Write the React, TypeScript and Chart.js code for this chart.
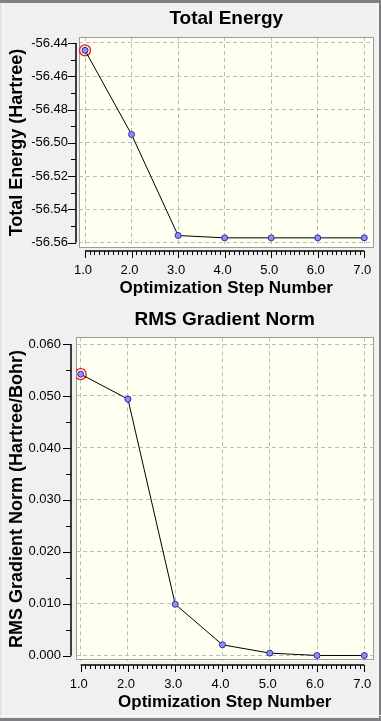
import React, { useEffect, useRef } from 'react';
import { Chart, registerables } from 'chart.js';

Chart.register(...registerables);

const FONT = '"Liberation Sans", Arial, Helvetica, sans-serif';

// ---- data ----
const steps = [1, 2, 3, 4, 5, 6, 7];
const xTickLabels = ['1.0', '2.0', '3.0', '4.0', '5.0', '6.0', '7.0'];

const totalEnergy = [-56.4444, -56.495, -56.5557, -56.5571, -56.5571, -56.5571, -56.5571];
const energyTicks = [-56.56, -56.54, -56.52, -56.5, -56.48, -56.46, -56.44];
const energyTickLabels = ['-56.56', '-56.54', '-56.52', '-56.50', '-56.48', '-56.46', '-56.44'];

const rmsGradient = [0.0542, 0.0494, 0.0099, 0.0021, 0.0005, 0.00005, 0.00003];
const gradientTicks = [0, 0.01, 0.02, 0.03, 0.04, 0.05, 0.06];
const gradientTickLabels = ['0.000', '0.010', '0.020', '0.030', '0.040', '0.050', '0.060'];

type FrameOpts = {
  yGap: number;
  xGap: number;
  yMinorStep: number;
  xMinorStep: number;
  yTicks: number[];
  xTicks: number[];
};

const framePlugin = {
  id: 'gvFrame',
  beforeDraw(chart: any) {
    const { ctx, chartArea: a } = chart;
    ctx.save();
    ctx.fillStyle = '#fffff2';
    ctx.fillRect(a.left, a.top, a.right - a.left, a.bottom - a.top);
    ctx.restore();
  },
  beforeDatasetsDraw(chart: any) {
    const { ctx, chartArea: a } = chart;
    ctx.save();
    ctx.strokeStyle = '#9c9c9c';
    ctx.lineWidth = 1;
    ctx.strokeRect(Math.round(a.left) + 0.5, Math.round(a.top) + 0.5, Math.round(a.right - a.left) - 1, Math.round(a.bottom - a.top) - 1);
    ctx.restore();
  },
  afterDraw(chart: any, _args: any, opts: FrameOpts) {
    const { ctx, chartArea: a } = chart;
    const xs = chart.scales.x;
    const ys = chart.scales.y;
    ctx.save();
    ctx.strokeStyle = '#000';
    ctx.lineWidth = 1.5;

    // y axis
    const yMin = opts.yTicks[0];
    const yMax = opts.yTicks[opts.yTicks.length - 1];
    const ax = Math.round(a.left) - opts.yGap - 1;
    const yTop = ys.getPixelForValue(yMax);
    const yBot = ys.getPixelForValue(yMin);
    ctx.beginPath();
    ctx.moveTo(ax, yTop);
    ctx.lineTo(ax, yBot);
    ctx.stroke();
    ctx.lineWidth = 1;
    const nY = Math.round((yMax - yMin) / opts.yMinorStep);
    for (let i = 0; i <= nY; i++) {
      const v = yMin + i * opts.yMinorStep;
      const py = Math.round(ys.getPixelForValue(v)) + 0.5;
      const len = i % 2 === 0 ? 8 : 5;
      ctx.beginPath();
      ctx.moveTo(ax, py);
      ctx.lineTo(ax - len, py);
      ctx.stroke();
    }

    // x axis
    const xMin = opts.xTicks[0];
    const xMax = opts.xTicks[opts.xTicks.length - 1];
    const ay = Math.round(a.bottom) + opts.xGap;
    const xl = xs.getPixelForValue(xMin);
    const xr = xs.getPixelForValue(xMax);
    ctx.lineWidth = 1.5;
    ctx.beginPath();
    ctx.moveTo(xl, ay);
    ctx.lineTo(xr, ay);
    ctx.stroke();
    ctx.lineWidth = 1;
    const nX = Math.round((xMax - xMin) / opts.xMinorStep);
    for (let i = 0; i <= nX; i++) {
      const v = xMin + i * opts.xMinorStep;
      const px = Math.round(xs.getPixelForValue(v)) + 0.5;
      const len = i % 10 === 0 ? 7 : 4;
      ctx.beginPath();
      ctx.moveTo(px, ay);
      ctx.lineTo(px, ay + len);
      ctx.stroke();
    }
    ctx.restore();
  },
};

type Params = {
  title: string;
  yTitle: string;
  values: number[];
  yTicks: number[];
  yTickLabels: string[];
  xMin: number;
  xMax: number;
  yMin: number;
  yMax: number;
  plotLeft: number;
  xHeight: number;
  titlePadTop: number;
  titlePadBottom: number;
  yLabelPad: number;
  xLabelPad: number;
  xTitlePadBottom: number;
  yGap: number;
  xGap: number;
  yMinorStep: number;
};

function makeConfig(p: Params): any {
  return {
    type: 'line',
    data: {
      datasets: [
        {
          data: steps.map((x, i) => ({ x, y: p.values[i] })),
          borderColor: '#000',
          borderWidth: 1,
          pointRadius: 3,
          pointBackgroundColor: '#9090f0',
          pointBorderColor: '#2c2ca8',
          pointBorderWidth: 1,
          tension: 0,
          fill: false,
        },
        {
          data: [{ x: steps[0], y: p.values[0] }],
          showLine: false,
          pointRadius: 5.5,
          pointBackgroundColor: 'rgba(0,0,0,0)',
          pointBorderColor: '#e01c1c',
          pointBorderWidth: 1.3,
        },
      ],
    },
    options: {
      responsive: false,
      animation: false,
      devicePixelRatio: 1,
      layout: { padding: { left: 0, right: 7.5, top: 0, bottom: 0 } },
      plugins: {
        legend: { display: false },
        tooltip: { enabled: false },
        title: {
          display: true,
          text: p.title,
          fullSize: false,
          color: '#000',
          font: { family: FONT, size: 19, weight: 'bold' },
          padding: { top: p.titlePadTop, bottom: p.titlePadBottom },
        },
        gvFrame: {
          yGap: p.yGap,
          xGap: p.xGap,
          yMinorStep: p.yMinorStep,
          xMinorStep: 0.1,
          yTicks: p.yTicks,
          xTicks: steps,
        },
      },
      scales: {
        x: {
          type: 'linear',
          min: p.xMin,
          max: p.xMax,
          afterBuildTicks: (s: any) => {
            s.ticks = steps.map((v) => ({ value: v }));
          },
          afterFit: (s: any) => {
            s.height = p.xHeight;
            s.paddingLeft = 0;
            s.paddingRight = 0;
            s.paddingTop = 0;
            s.paddingBottom = 0;
          },
          ticks: {
            autoSkip: false,
            maxRotation: 0,
            padding: p.xLabelPad,
            labelOffset: -2,
            color: '#000',
            font: { family: FONT, size: 13 },
            callback: (_v: any, i: number) => xTickLabels[i],
          },
          grid: { color: '#bdbdbd', lineWidth: 1, drawTicks: false },
          border: { display: false, dash: [4, 3] },
          title: {
            display: true,
            text: 'Optimization Step Number',
            color: '#000',
            font: { family: FONT, size: 17, weight: 'bold' },
            padding: { top: 0, bottom: p.xTitlePadBottom },
          },
        },
        y: {
          type: 'linear',
          min: p.yMin,
          max: p.yMax,
          afterBuildTicks: (s: any) => {
            s.ticks = p.yTicks.map((v) => ({ value: v }));
          },
          afterFit: (s: any) => {
            s.width = p.plotLeft;
            s.paddingLeft = 0;
            s.paddingRight = 0;
            s.paddingTop = 0;
            s.paddingBottom = 0;
          },
          ticks: {
            autoSkip: false,
            padding: p.yLabelPad,
            color: '#000',
            font: { family: FONT, size: 13 },
            callback: (_v: any, i: number) => p.yTickLabels[i],
          },
          grid: { color: '#bdbdbd', lineWidth: 1, drawTicks: false },
          border: { display: false, dash: [4, 3] },
          title: {
            display: true,
            text: p.yTitle,
            color: '#000',
            font: { family: FONT, size: 18, weight: 'bold' },
            padding: { top: 6.2, bottom: 0 },
          },
        },
      },
    },
    plugins: [framePlugin],
  };
}

export default function App() {
  const topRef = useRef<HTMLCanvasElement>(null);
  const botRef = useRef<HTMLCanvasElement>(null);

  useEffect(() => {
    const top = new Chart(
      topRef.current as HTMLCanvasElement,
      makeConfig({
        title: 'Total Energy',
        yTitle: 'Total Energy (Hartree)',
        values: totalEnergy,
        yTicks: energyTicks,
        yTickLabels: energyTickLabels,
        xMin: 0.871,
        xMax: 7.198,
        yMin: -56.5632,
        yMax: -56.4364,
        plotLeft: 79,
        xHeight: 57,
        titlePadTop: 7.6,
        titlePadBottom: 6.6,
        yLabelPad: 11,
        xLabelPad: 14.2,
        xTitlePadBottom: 6.8,
        yGap: 2,
        xGap: 3,
        yMinorStep: 0.01,
      })
    );
    const bot = new Chart(
      botRef.current as HTMLCanvasElement,
      makeConfig({
        title: 'RMS Gradient Norm',
        yTitle: 'RMS Gradient Norm (Hartree/Bohr)',
        values: rmsGradient,
        yTicks: gradientTicks,
        yTickLabels: gradientTickLabels,
        xMin: 0.9006,
        xMax: 7.195,
        yMin: -0.00096,
        yMax: 0.0613,
        plotLeft: 76,
        xHeight: 60.3,
        titlePadTop: 3.6,
        titlePadBottom: 5.9,
        yLabelPad: 15,
        xLabelPad: 15.5,
        xTitlePadBottom: 8.8,
        yGap: 4,
        xGap: 4,
        yMinorStep: 0.005,
      })
    );
    return () => {
      top.destroy();
      bot.destroy();
    };
  }, []);

  const band = '#7f7f84';
  return (
    <div style={{ position: 'fixed', left: 0, top: 0, width: 381, height: 721, background: '#f0f0f0', overflow: 'hidden' }}>
      <canvas ref={topRef} width={381} height={305} style={{ position: 'absolute', left: 0, top: 0, display: 'block' }} />
      <canvas ref={botRef} width={381} height={416} style={{ position: 'absolute', left: 0, top: 305, display: 'block' }} />
      <div style={{ position: 'absolute', left: 0, top: 0, width: 2, height: 721, background: '#e2e2e2' }} />
      <div style={{ position: 'absolute', left: 2, top: 0, width: 1, height: 721, background: '#fafafa' }} />
      <div style={{ position: 'absolute', left: 377, top: 0, width: 1, height: 721, background: '#fafafa' }} />
      <div style={{ position: 'absolute', left: 379, top: 0, width: 2, height: 721, background: band }} />
      <div style={{ position: 'absolute', left: 0, top: 715, width: 381, height: 1, background: '#fafafa' }} />
      <div style={{ position: 'absolute', left: 0, top: 0, width: 381, height: 3, background: band }} />
      <div style={{ position: 'absolute', left: 0, top: 718, width: 381, height: 3, background: band }} />
    </div>
  );
}
